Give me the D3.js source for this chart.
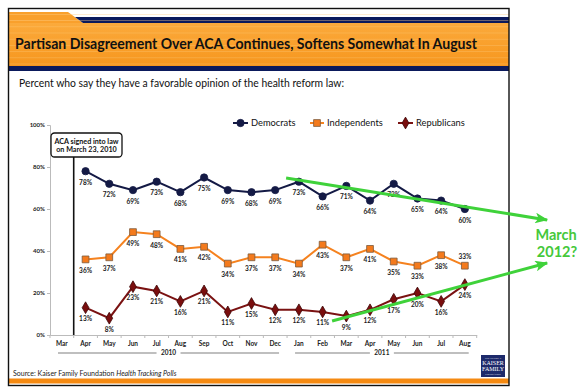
<!DOCTYPE html>
<html><head><meta charset="utf-8">
<script src="https://cdn.jsdelivr.net/npm/d3@7"></script>
<style>
html,body{margin:0;padding:0;background:#fff;}
svg{display:block;font-family:Lato,"Open Sans",sans-serif;}
</style></head>
<body>
<svg id="c" width="583" height="390"></svg>
<script>
// ---------- data ----------
const months = ["Mar","Apr","May","Jun","Jul","Aug","Sep","Oct","Nov","Dec","Jan","Feb","Mar","Apr","May","Jun","Jul","Aug"];
const monthYears = ["2010","2010","2010","2010","2010","2010","2010","2010","2010","2010","2011","2011","2011","2011","2011","2011","2011","2011"];
const yearLabels = ["2010","2011"];
// values start at Apr 2010 (index 1)
const democrats    = [78,72,69,73,68,75,69,68,69,73,66,71,64,72,65,64,60];
const independents = [36,37,49,48,41,42,34,37,37,34,43,37,41,35,33,38,33];
const republicans  = [13,8,23,21,16,21,11,15,12,12,11,9,12,17,20,16,24];
const yTicks = [0,20,40,60,80,100];
const title = "Partisan Disagreement Over ACA Continues, Softens Somewhat In August";
const subtitle = "Percent who say they have a favorable opinion of the health reform law:";
// hand-drawn green trend arrows, in (month-slot, percent) units
const trendDem = [[9.96,74.8],[20.97,54.8]];
const trendRep = [[11.9,6.7],[20.97,34.3]];

const svg = d3.select("#c");
const keys = months.map((m,i)=>i);
const x = d3.scaleBand().domain(keys).range([50,476.7]).paddingInner(0).paddingOuter(0);
const xs = d3.scaleLinear().domain([0,months.length]).range([50,476.7]);
const y = d3.scaleLinear().domain([0,100]).range([335,125]);
const cx = i => x(i)+x.bandwidth()/2;

// ---------- slide frame ----------
const defs = svg.append("defs");
const g1 = defs.append("linearGradient").attr("id","og").attr("x1",0).attr("y1",0).attr("x2",0).attr("y2",1);
g1.append("stop").attr("offset","0").attr("stop-color","#fbaa3c");
g1.append("stop").attr("offset","0.5").attr("stop-color","#f9a02c");
g1.append("stop").attr("offset","1").attr("stop-color","#f6961e");
svg.append("rect").attr("x",8).attr("y",8).attr("width",501).attr("height",378).attr("fill","#fff");
// tab + bands
svg.append("path").attr("d","M8,12 L68,12 L83,23 L8,23 Z").attr("fill","#f9a02c");
svg.append("path").attr("d","M75,17 L509,17 L509,23 L83,23 Z").attr("fill","#0b1a5c");
svg.append("rect").attr("x",8).attr("y",23).attr("width",501).attr("height",43).attr("fill","url(#og)");
d3.range(0,9).forEach(k=>{
  svg.append("rect").attr("x",8).attr("y",14+k*6.2).attr("width",501).attr("height",0.8)
    .attr("fill","#ffd08a").attr("opacity",k<2?0.5:0.35);
});
svg.append("rect").attr("x",8).attr("y",66).attr("width",501).attr("height",5).attr("fill","#0b1a5c");
svg.append("text").attr("x",15).attr("y",49).attr("font-size",15).attr("font-weight",700)
  .attr("fill","#111").attr("textLength",462).attr("lengthAdjust","spacingAndGlyphs").text(title);
svg.append("text").attr("x",19).attr("y",87).attr("font-size",10.5)
  .attr("fill","#111").attr("textLength",325).attr("lengthAdjust","spacingAndGlyphs").text(subtitle);

// bottom bar
svg.append("rect").attr("x",8).attr("y",378.5).attr("width",501).attr("height",5).attr("fill","#f58a12");
svg.append("rect").attr("x",8.5).attr("y",8.5).attr("width",500.5).attr("height",377).attr("fill","none")
  .attr("stroke","#111").attr("stroke-width",1.4);

// source
const src = svg.append("text").attr("x",13).attr("y",375.5).attr("font-size",7).attr("fill","#222");
src.append("tspan").text("Source: Kaiser Family Foundation ");
src.append("tspan").attr("font-style","italic").text("Health Tracking Polls");

// logo
const lg = svg.append("g");
lg.append("rect").attr("x",481).attr("y",355).attr("width",24).attr("height",22).attr("fill","#1d2a6b");
[["THE HENRY J.",358.5,2.6],["KAISER",364.5,6],["FAMILY",370.5,6],["FOUNDATION",375,2.4]].forEach(t=>{
  lg.append("text").attr("x",493).attr("y",t[1]).attr("text-anchor","middle").attr("font-size",t[2])
    .attr("fill","#fff").attr("font-family","Liberation Serif, serif").text(t[0]);
});

// ---------- axes ----------
const ya = svg.append("g").attr("transform","translate(50,0)")
  .call(d3.axisLeft(y).tickValues(yTicks).tickSize(3).tickPadding(2).tickFormat(d=>d+"%"));
ya.select(".domain").attr("stroke","#bbb");
ya.selectAll(".tick line").attr("stroke","#bbb");
ya.selectAll("text").attr("font-size",6).attr("font-weight",700).attr("fill","#222").attr("font-family","Lato,sans-serif");

const xa = svg.append("g").attr("transform","translate(0,335)")
  .call(d3.axisBottom(x).tickSize(0).tickPadding(6).tickFormat(i=>months[i]));
xa.select(".domain").attr("stroke","#bbb");
xa.selectAll("text").attr("font-size",6.5).attr("font-weight",700).attr("fill","#222").attr("font-family","Lato,sans-serif");
svg.append("g").selectAll("line").data(d3.range(0,months.length+1)).join("line")
  .attr("x1",d=>xs(d)).attr("x2",d=>xs(d)).attr("y1",335).attr("y2",338).attr("stroke","#bbb");

// year labels with gray rules
yearLabels.forEach(yr=>{
  const idx = keys.filter(i=>monthYears[i]===yr);
  const x0 = xs(idx[0])+8, x1 = xs(idx[idx.length-1]+1)-8;
  const mid = (xs(idx[0])+xs(idx[idx.length-1]+1))/2;
  svg.append("line").attr("x1",x0).attr("x2",mid-12).attr("y1",353).attr("y2",353).attr("stroke","#aaa").attr("stroke-width",1.6);
  svg.append("line").attr("x1",mid+12).attr("x2",x1).attr("y1",353).attr("y2",353).attr("stroke","#aaa").attr("stroke-width",1.6);
  svg.append("text").attr("x",mid).attr("y",355.3).attr("text-anchor","middle").attr("font-size",6.5)
    .attr("font-weight",700).attr("fill","#222").text(yr);
});

// ---------- annotation ----------
const ax = x(1);
svg.append("line").attr("x1",ax).attr("x2",ax).attr("y1",157).attr("y2",y(0)).attr("stroke","#111").attr("stroke-width",1.6);
svg.append("rect").attr("x",51).attr("y",133).attr("width",71).attr("height",24).attr("rx",3.5)
  .attr("fill","#fff").attr("stroke","#111").attr("stroke-width",1.3);
svg.append("text").attr("x",86.5).attr("y",143.5).attr("text-anchor","middle").attr("font-size",7.2).attr("font-weight",700).attr("fill","#111").text("ACA signed into law");
svg.append("text").attr("x",86.5).attr("y",152).attr("text-anchor","middle").attr("font-size",7.2).attr("font-weight",700).attr("fill","#111").text("on March 23, 2010");

// ---------- series ----------
const series = [
  {name:"Democrats", vals:democrats, color:"#141a45", marker:"circle", mfill:"#141a45", mstroke:"#141a45"},
  {name:"Independents", vals:independents, color:"#f5821f", marker:"square", mfill:"#f47a1c", mstroke:"#7c5a3c"},
  {name:"Republicans", vals:republicans, color:"#7a1212", marker:"diamond", mfill:"#7a0e0e", mstroke:"#3d0606"}
];
const sym = {circle:d3.symbol(d3.symbolCircle,42), square:d3.symbol(d3.symbolSquare,46), diamond:d3.symbol(d3.symbolDiamond,40)};
const line = d3.line().x(d=>cx(d.i)).y(d=>y(d.v));
series.forEach(s=>{
  const pts = s.vals.map((v,k)=>({i:k+1,v}));
  svg.append("path").datum(pts).attr("d",line).attr("fill","none").attr("stroke",s.color).attr("stroke-width",2);
  svg.append("g").selectAll("path").data(pts).join("path")
    .attr("transform",d=>`translate(${cx(d.i)},${y(d.v)})`).attr("d",sym[s.marker])
    .attr("fill",s.mfill).attr("stroke",s.mstroke).attr("stroke-width",0.8);
  svg.append("g").selectAll("text").data(pts).join("text")
    .attr("x",d=>cx(d.i))
    .attr("y",d=>(s.name==="Independents" && d.i===17) ? y(d.v)-7 : y(d.v)+13.5)
    .attr("text-anchor","middle").attr("font-size",6.5).attr("font-weight",700).attr("fill","#1a1a1a")
    .text(d=>d.v+"%");
});

// legend
const legendPos = [[233,248,251],[310,324,327],[398,413,416]];
series.forEach((s,k)=>{
  const [a,b,t] = legendPos[k];
  svg.append("line").attr("x1",a).attr("x2",b).attr("y1",123).attr("y2",123).attr("stroke",s.color).attr("stroke-width",2);
  svg.append("path").attr("transform",`translate(${(a+b)/2},123)`).attr("d",sym[s.marker])
    .attr("fill",s.mfill).attr("stroke",s.mstroke).attr("stroke-width",0.8);
  svg.append("text").attr("x",t).attr("y",126.3).attr("font-size",9.3).attr("fill","#111").text(s.name);
});

// ---------- green trend arrows ----------
const green = "#3fd23a";
defs.append("marker").attr("id","ah").attr("viewBox","0 0 12 10").attr("refX",11).attr("refY",5)
  .attr("markerWidth",4.5).attr("markerHeight",3.6).attr("orient","auto")
  .append("path").attr("d","M0,0 L12,5 L0,10 L3,5 Z").attr("fill",green);
[trendDem,trendRep].forEach(t=>{
  svg.append("line").attr("x1",xs(t[0][0])).attr("y1",y(t[0][1])).attr("x2",xs(t[1][0])).attr("y2",y(t[1][1]))
    .attr("stroke",green).attr("stroke-width",3).attr("marker-end","url(#ah)");
});
svg.append("text").attr("x",556).attr("y",240).attr("text-anchor","middle").attr("font-size",14.5)
  .attr("font-weight",700).attr("fill","#45c83a").text("March");
svg.append("text").attr("x",557).attr("y",257).attr("text-anchor","middle").attr("font-size",14.5)
  .attr("font-weight",700).attr("fill","#45c83a").text("2012?");
</script>
</body></html>
